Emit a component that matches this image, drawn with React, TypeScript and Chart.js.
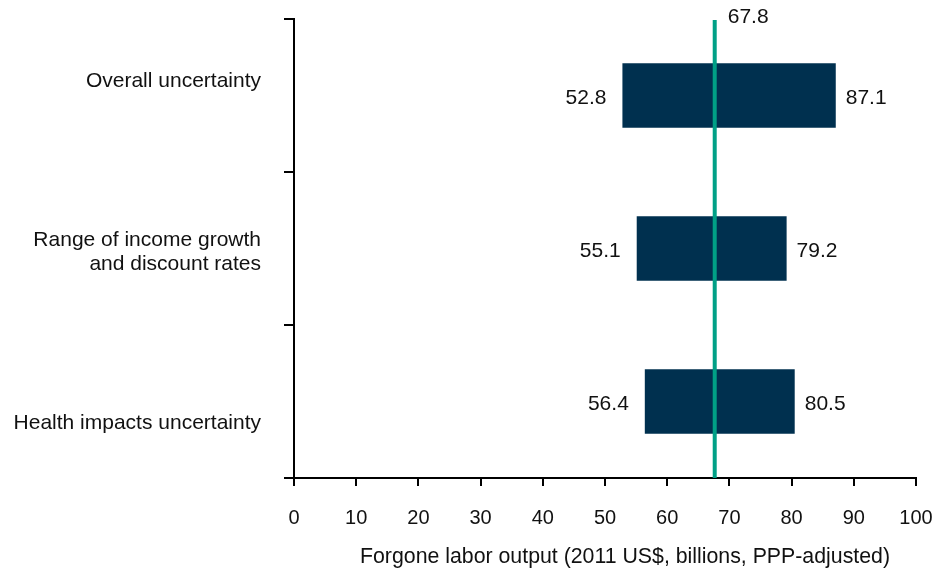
import React, { useEffect, useRef } from "react";
import { Chart, registerables } from "chart.js";

Chart.register(...registerables);

// ---------- data ----------
const categories: string[][] = [
  ["Overall uncertainty"],
  ["Range of income growth", "and discount rates"],
  ["Health impacts uncertainty"],
];
const lowValues = [52.8, 55.1, 56.4];
const highValues = [87.1, 79.2, 80.5];
const centralEstimate = 67.8;
const xMin = 0;
const xMax = 100;
const xStep = 10;
const xAxisTitle = "Forgone labor output (2011 US$, billions, PPP-adjusted)";

// ---------- styles ----------
const FONT_FAMILY = '"Liberation Sans", Arial, Helvetica, sans-serif';
const NAVY = "#00304f";
const TEAL = "#00a086";
const TEXT = "#111111";
const LABEL_SIZE = 21;
const TITLE_SIZE = 21.3;
const TICK_SIZE = 20;
const CATEGORY_LABEL_SHIFT = [-14, 4, 22];
const CATEGORY_LINE_HEIGHT = 24;
const VALUE_LABEL_SHIFT = 3;

const overlayPlugin = {
  id: "overlay",
  afterDatasetsDraw(chart: any) {
    const { ctx, chartArea, scales } = chart;
    const x = scales.x;
    const y = scales.y;
    ctx.save();

    // central estimate line
    const cx = x.getPixelForValue(centralEstimate) - 1;
    ctx.strokeStyle = TEAL;
    ctx.lineWidth = 4;
    ctx.beginPath();
    ctx.moveTo(cx, chartArea.top + 1);
    ctx.lineTo(cx, chartArea.bottom);
    ctx.stroke();

    ctx.fillStyle = TEXT;
    ctx.font = `${LABEL_SIZE}px ${FONT_FAMILY}`;
    ctx.textBaseline = "middle";
    ctx.textAlign = "left";
    ctx.fillText(String(centralEstimate), cx + 13, chartArea.top - 2);

    // value labels
    const meta = chart.getDatasetMeta(0);
    meta.data.forEach((bar: any, i: number) => {
      const yc = bar.y + VALUE_LABEL_SHIFT;
      ctx.textAlign = "right";
      ctx.fillText(lowValues[i].toFixed(1), x.getPixelForValue(lowValues[i]) - 16, yc);
      ctx.textAlign = "left";
      ctx.fillText(highValues[i].toFixed(1), x.getPixelForValue(highValues[i]) + 10, yc);
    });

    // category labels
    ctx.textAlign = "right";
    categories.forEach((lines, i) => {
      const yc = y.getPixelForValue(i) + CATEGORY_LABEL_SHIFT[i];
      const start = yc - ((lines.length - 1) * CATEGORY_LINE_HEIGHT) / 2;
      lines.forEach((line, j) => {
        ctx.fillText(line, chartArea.left - 33, start + j * CATEGORY_LINE_HEIGHT);
      });
    });

    // axis title
    ctx.font = `${TITLE_SIZE}px ${FONT_FAMILY}`;
    ctx.textAlign = "center";
    ctx.fillText(xAxisTitle, 625, chartArea.bottom + 79);

    ctx.restore();
  },
};

export default function App() {
  const canvasRef = useRef<HTMLCanvasElement | null>(null);

  useEffect(() => {
    document.body.style.margin = "0";
    const canvas = canvasRef.current;
    if (!canvas) return;
    const chart = new Chart(canvas, {
      type: "bar",
      data: {
        labels: categories.map((c) => c.join(" ")),
        datasets: [
          {
            data: lowValues.map((lo, i) => [lo, highValues[i]]) as any,
            backgroundColor: NAVY,
            borderWidth: 0,
            barPercentage: 0.42,
            categoryPercentage: 1,
          },
        ],
      },
      options: {
        indexAxis: "y",
        animation: false,
        responsive: false,
        maintainAspectRatio: false,
        layout: { padding: { top: 19, right: 22, left: 0, bottom: 0 } },
        plugins: {
          legend: { display: false },
          tooltip: { enabled: false },
        },
        scales: {
          x: {
            type: "linear",
            min: xMin,
            max: xMax,
            ticks: {
              stepSize: xStep,
              color: TEXT,
              padding: 20,
              font: { family: FONT_FAMILY, size: TICK_SIZE },
            },
            grid: {
              drawOnChartArea: false,
              drawTicks: true,
              tickLength: 8,
              color: "#000",
              lineWidth: 2,
            },
            border: { color: "#000", width: 2 },
            afterFit: (scale: any) => {
              scale.height = 95;
              scale.paddingLeft = 0;
              scale.paddingRight = 22;
            },
          },
          y: {
            type: "category",
            offset: true,
            ticks: { display: false },
            grid: {
              offset: true,
              drawOnChartArea: false,
              drawTicks: true,
              tickLength: 10,
              color: "#000",
              lineWidth: 2,
            },
            border: { color: "#000", width: 2 },
            afterFit: (scale: any) => {
              scale.width = 294;
            },
          },
        },
      },
      plugins: [overlayPlugin],
    });
    return () => chart.destroy();
  }, []);

  return <canvas ref={canvasRef} width={938} height={573} style={{ display: "block" }} />;
}
